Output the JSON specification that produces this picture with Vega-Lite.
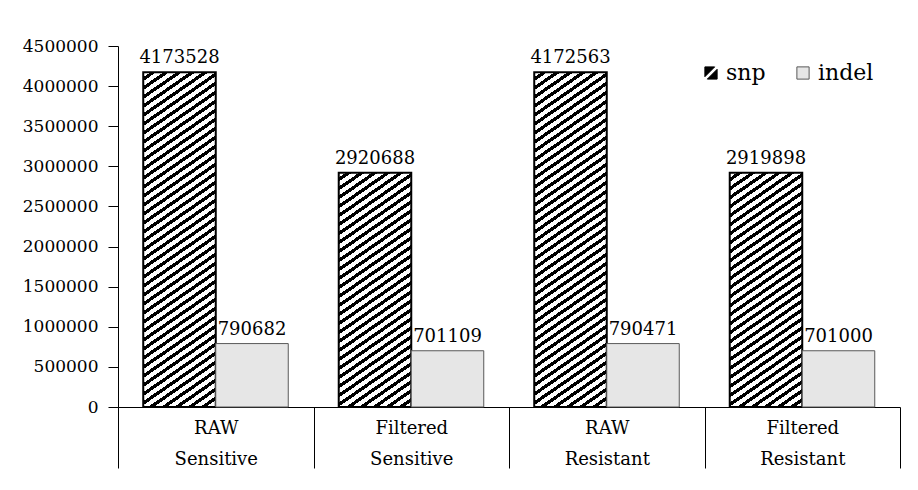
{
  "$schema": "https://vega.github.io/schema/vega-lite/v6.json",
  "width": 782,
  "height": 361,
  "autosize": "none",
  "padding": {"left": 118, "top": 46, "right": 18, "bottom": 83},
  "background": "white",
  "config": {
    "view": {"stroke": null},
    "font": "DejaVu Serif",
    "axis": {
      "grid": false,
      "domainColor": "#000",
      "tickColor": "#000",
      "labelColor": "#000",
      "labelFont": "DejaVu Serif",
      "labelFontWeight": "normal"
    },
    "legend": {
      "orient": "none",
      "legendX": 582,
      "legendY": 16,
      "direction": "horizontal",
      "padding": 0,
      "symbolSize": 150,
      "symbolOpacity": 1,
      "symbolStrokeWidth": 1,
      "labelFont": "DejaVu Serif",
      "labelFontSize": 22,
      "labelColor": "#000",
      "labelOffset": 4,
      "columnPadding": 26
    }
  },
  "data": {
    "values": [
      {"group": "RAW|Sensitive", "type": "snp", "value": 4173528},
      {"group": "RAW|Sensitive", "type": "indel", "value": 790682},
      {"group": "Filtered|Sensitive", "type": "snp", "value": 2920688},
      {"group": "Filtered|Sensitive", "type": "indel", "value": 701109},
      {"group": "RAW|Resistant", "type": "snp", "value": 4172563},
      {"group": "RAW|Resistant", "type": "indel", "value": 790471},
      {"group": "Filtered|Resistant", "type": "snp", "value": 2919898},
      {"group": "Filtered|Resistant", "type": "indel", "value": 701000}
    ]
  },
  "encoding": {
    "x": {
      "field": "group",
      "type": "nominal",
      "sort": null,
      "scale": {"paddingInner": 0, "paddingOuter": 0},
      "axis": {
        "title": null,
        "labelAngle": 0,
        "labelExpr": "split(datum.label, '|')",
        "labelFontSize": 18,
        "tickBand": "extent",
        "tickSize": 61,
        "labelPadding": -49,
        "labelBaseline": "top",
        "labelLineHeight": 31,
        "labelOverlap": false
      }
    },
    "xOffset": {
      "field": "type",
      "type": "nominal",
      "sort": ["snp", "indel"],
      "scale": {"paddingInner": 0, "paddingOuter": 0.348}
    },
    "y": {
      "field": "value",
      "type": "quantitative",
      "scale": {"domain": [0, 4500000], "nice": false},
      "axis": {
        "title": null,
        "values": [0, 500000, 1000000, 1500000, 2000000, 2500000, 3000000, 3500000, 4000000, 4500000],
        "format": "d",
        "labelFontSize": 17,
        "tickSize": 10,
        "labelPadding": 10
      }
    }
  },
  "layer": [
    {
      "mark": {"type": "bar"},
      "encoding": {
        "fill": {
          "field": "type",
          "type": "nominal",
          "scale": {"domain": ["snp", "indel"], "range": ["#000000", "#e6e6e6"]},
          "legend": {"title": null},
          "condition": [
            {
              "test": "datum.type === 'snp' && datum.value > 3500000",
              "value": {
                "gradient": "linear", "x1": 0, "y1": 0, "x2": 0.1746, "y2": 1.1686,
                "stops": [
                  {"offset": 0, "color": "#fff"}, {"offset": 0.0125, "color": "#fff"}, {"offset": 0.0125, "color": "#000"}, {"offset": 0.0225, "color": "#000"},
                  {"offset": 0.0225, "color": "#fff"}, {"offset": 0.035, "color": "#fff"}, {"offset": 0.035, "color": "#000"}, {"offset": 0.045, "color": "#000"},
                  {"offset": 0.045, "color": "#fff"}, {"offset": 0.0575, "color": "#fff"}, {"offset": 0.0575, "color": "#000"}, {"offset": 0.0675, "color": "#000"},
                  {"offset": 0.0675, "color": "#fff"}, {"offset": 0.08, "color": "#fff"}, {"offset": 0.08, "color": "#000"}, {"offset": 0.09, "color": "#000"},
                  {"offset": 0.09, "color": "#fff"}, {"offset": 0.1025, "color": "#fff"}, {"offset": 0.1025, "color": "#000"}, {"offset": 0.1125, "color": "#000"},
                  {"offset": 0.1125, "color": "#fff"}, {"offset": 0.125, "color": "#fff"}, {"offset": 0.125, "color": "#000"}, {"offset": 0.135, "color": "#000"},
                  {"offset": 0.135, "color": "#fff"}, {"offset": 0.1475, "color": "#fff"}, {"offset": 0.1475, "color": "#000"}, {"offset": 0.1575, "color": "#000"},
                  {"offset": 0.1575, "color": "#fff"}, {"offset": 0.17, "color": "#fff"}, {"offset": 0.17, "color": "#000"}, {"offset": 0.18, "color": "#000"},
                  {"offset": 0.18, "color": "#fff"}, {"offset": 0.1925, "color": "#fff"}, {"offset": 0.1925, "color": "#000"}, {"offset": 0.2025, "color": "#000"},
                  {"offset": 0.2025, "color": "#fff"}, {"offset": 0.215, "color": "#fff"}, {"offset": 0.215, "color": "#000"}, {"offset": 0.225, "color": "#000"},
                  {"offset": 0.225, "color": "#fff"}, {"offset": 0.2375, "color": "#fff"}, {"offset": 0.2375, "color": "#000"}, {"offset": 0.2475, "color": "#000"},
                  {"offset": 0.2475, "color": "#fff"}, {"offset": 0.26, "color": "#fff"}, {"offset": 0.26, "color": "#000"}, {"offset": 0.27, "color": "#000"},
                  {"offset": 0.27, "color": "#fff"}, {"offset": 0.2825, "color": "#fff"}, {"offset": 0.2825, "color": "#000"}, {"offset": 0.2925, "color": "#000"},
                  {"offset": 0.2925, "color": "#fff"}, {"offset": 0.305, "color": "#fff"}, {"offset": 0.305, "color": "#000"}, {"offset": 0.315, "color": "#000"},
                  {"offset": 0.315, "color": "#fff"}, {"offset": 0.3275, "color": "#fff"}, {"offset": 0.3275, "color": "#000"}, {"offset": 0.3375, "color": "#000"},
                  {"offset": 0.3375, "color": "#fff"}, {"offset": 0.35, "color": "#fff"}, {"offset": 0.35, "color": "#000"}, {"offset": 0.36, "color": "#000"},
                  {"offset": 0.36, "color": "#fff"}, {"offset": 0.3725, "color": "#fff"}, {"offset": 0.3725, "color": "#000"}, {"offset": 0.3825, "color": "#000"},
                  {"offset": 0.3825, "color": "#fff"}, {"offset": 0.395, "color": "#fff"}, {"offset": 0.395, "color": "#000"}, {"offset": 0.405, "color": "#000"},
                  {"offset": 0.405, "color": "#fff"}, {"offset": 0.4175, "color": "#fff"}, {"offset": 0.4175, "color": "#000"}, {"offset": 0.4275, "color": "#000"},
                  {"offset": 0.4275, "color": "#fff"}, {"offset": 0.44, "color": "#fff"}, {"offset": 0.44, "color": "#000"}, {"offset": 0.45, "color": "#000"},
                  {"offset": 0.45, "color": "#fff"}, {"offset": 0.4625, "color": "#fff"}, {"offset": 0.4625, "color": "#000"}, {"offset": 0.4725, "color": "#000"},
                  {"offset": 0.4725, "color": "#fff"}, {"offset": 0.485, "color": "#fff"}, {"offset": 0.485, "color": "#000"}, {"offset": 0.495, "color": "#000"},
                  {"offset": 0.495, "color": "#fff"}, {"offset": 0.5075, "color": "#fff"}, {"offset": 0.5075, "color": "#000"}, {"offset": 0.5175, "color": "#000"},
                  {"offset": 0.5175, "color": "#fff"}, {"offset": 0.53, "color": "#fff"}, {"offset": 0.53, "color": "#000"}, {"offset": 0.54, "color": "#000"},
                  {"offset": 0.54, "color": "#fff"}, {"offset": 0.5525, "color": "#fff"}, {"offset": 0.5525, "color": "#000"}, {"offset": 0.5625, "color": "#000"},
                  {"offset": 0.5625, "color": "#fff"}, {"offset": 0.575, "color": "#fff"}, {"offset": 0.575, "color": "#000"}, {"offset": 0.585, "color": "#000"},
                  {"offset": 0.585, "color": "#fff"}, {"offset": 0.5975, "color": "#fff"}, {"offset": 0.5975, "color": "#000"}, {"offset": 0.6075, "color": "#000"},
                  {"offset": 0.6075, "color": "#fff"}, {"offset": 0.62, "color": "#fff"}, {"offset": 0.62, "color": "#000"}, {"offset": 0.63, "color": "#000"},
                  {"offset": 0.63, "color": "#fff"}, {"offset": 0.6425, "color": "#fff"}, {"offset": 0.6425, "color": "#000"}, {"offset": 0.6525, "color": "#000"},
                  {"offset": 0.6525, "color": "#fff"}, {"offset": 0.665, "color": "#fff"}, {"offset": 0.665, "color": "#000"}, {"offset": 0.675, "color": "#000"},
                  {"offset": 0.675, "color": "#fff"}, {"offset": 0.6875, "color": "#fff"}, {"offset": 0.6875, "color": "#000"}, {"offset": 0.6975, "color": "#000"},
                  {"offset": 0.6975, "color": "#fff"}, {"offset": 0.71, "color": "#fff"}, {"offset": 0.71, "color": "#000"}, {"offset": 0.72, "color": "#000"},
                  {"offset": 0.72, "color": "#fff"}, {"offset": 0.7325, "color": "#fff"}, {"offset": 0.7325, "color": "#000"}, {"offset": 0.7425, "color": "#000"},
                  {"offset": 0.7425, "color": "#fff"}, {"offset": 0.755, "color": "#fff"}, {"offset": 0.755, "color": "#000"}, {"offset": 0.765, "color": "#000"},
                  {"offset": 0.765, "color": "#fff"}, {"offset": 0.7775, "color": "#fff"}, {"offset": 0.7775, "color": "#000"}, {"offset": 0.7875, "color": "#000"},
                  {"offset": 0.7875, "color": "#fff"}, {"offset": 0.8, "color": "#fff"}, {"offset": 0.8, "color": "#000"}, {"offset": 0.81, "color": "#000"},
                  {"offset": 0.81, "color": "#fff"}, {"offset": 0.8225, "color": "#fff"}, {"offset": 0.8225, "color": "#000"}, {"offset": 0.8325, "color": "#000"},
                  {"offset": 0.8325, "color": "#fff"}, {"offset": 0.845, "color": "#fff"}, {"offset": 0.845, "color": "#000"}, {"offset": 0.855, "color": "#000"},
                  {"offset": 0.855, "color": "#fff"}, {"offset": 0.8675, "color": "#fff"}, {"offset": 0.8675, "color": "#000"}, {"offset": 0.8775, "color": "#000"},
                  {"offset": 0.8775, "color": "#fff"}, {"offset": 0.89, "color": "#fff"}, {"offset": 0.89, "color": "#000"}, {"offset": 0.9, "color": "#000"},
                  {"offset": 0.9, "color": "#fff"}, {"offset": 0.9125, "color": "#fff"}, {"offset": 0.9125, "color": "#000"}, {"offset": 0.9225, "color": "#000"},
                  {"offset": 0.9225, "color": "#fff"}, {"offset": 0.935, "color": "#fff"}, {"offset": 0.935, "color": "#000"}, {"offset": 0.945, "color": "#000"},
                  {"offset": 0.945, "color": "#fff"}, {"offset": 0.9575, "color": "#fff"}, {"offset": 0.9575, "color": "#000"}, {"offset": 0.9675, "color": "#000"},
                  {"offset": 0.9675, "color": "#fff"}, {"offset": 0.98, "color": "#fff"}, {"offset": 0.98, "color": "#000"}, {"offset": 0.99, "color": "#000"},
                  {"offset": 0.99, "color": "#fff"}, {"offset": 1, "color": "#fff"}
                ]
              }
            },
            {
              "test": "datum.type === 'snp'",
              "value": {
                "gradient": "linear", "x1": 0, "y1": 0, "x2": 0.3486, "y2": 1.6328,
                "stops": [
                  {"offset": 0, "color": "#fff"}, {"offset": 0.0125, "color": "#fff"}, {"offset": 0.0125, "color": "#000"}, {"offset": 0.0225, "color": "#000"},
                  {"offset": 0.0225, "color": "#fff"}, {"offset": 0.035, "color": "#fff"}, {"offset": 0.035, "color": "#000"}, {"offset": 0.045, "color": "#000"},
                  {"offset": 0.045, "color": "#fff"}, {"offset": 0.0575, "color": "#fff"}, {"offset": 0.0575, "color": "#000"}, {"offset": 0.0675, "color": "#000"},
                  {"offset": 0.0675, "color": "#fff"}, {"offset": 0.08, "color": "#fff"}, {"offset": 0.08, "color": "#000"}, {"offset": 0.09, "color": "#000"},
                  {"offset": 0.09, "color": "#fff"}, {"offset": 0.1025, "color": "#fff"}, {"offset": 0.1025, "color": "#000"}, {"offset": 0.1125, "color": "#000"},
                  {"offset": 0.1125, "color": "#fff"}, {"offset": 0.125, "color": "#fff"}, {"offset": 0.125, "color": "#000"}, {"offset": 0.135, "color": "#000"},
                  {"offset": 0.135, "color": "#fff"}, {"offset": 0.1475, "color": "#fff"}, {"offset": 0.1475, "color": "#000"}, {"offset": 0.1575, "color": "#000"},
                  {"offset": 0.1575, "color": "#fff"}, {"offset": 0.17, "color": "#fff"}, {"offset": 0.17, "color": "#000"}, {"offset": 0.18, "color": "#000"},
                  {"offset": 0.18, "color": "#fff"}, {"offset": 0.1925, "color": "#fff"}, {"offset": 0.1925, "color": "#000"}, {"offset": 0.2025, "color": "#000"},
                  {"offset": 0.2025, "color": "#fff"}, {"offset": 0.215, "color": "#fff"}, {"offset": 0.215, "color": "#000"}, {"offset": 0.225, "color": "#000"},
                  {"offset": 0.225, "color": "#fff"}, {"offset": 0.2375, "color": "#fff"}, {"offset": 0.2375, "color": "#000"}, {"offset": 0.2475, "color": "#000"},
                  {"offset": 0.2475, "color": "#fff"}, {"offset": 0.26, "color": "#fff"}, {"offset": 0.26, "color": "#000"}, {"offset": 0.27, "color": "#000"},
                  {"offset": 0.27, "color": "#fff"}, {"offset": 0.2825, "color": "#fff"}, {"offset": 0.2825, "color": "#000"}, {"offset": 0.2925, "color": "#000"},
                  {"offset": 0.2925, "color": "#fff"}, {"offset": 0.305, "color": "#fff"}, {"offset": 0.305, "color": "#000"}, {"offset": 0.315, "color": "#000"},
                  {"offset": 0.315, "color": "#fff"}, {"offset": 0.3275, "color": "#fff"}, {"offset": 0.3275, "color": "#000"}, {"offset": 0.3375, "color": "#000"},
                  {"offset": 0.3375, "color": "#fff"}, {"offset": 0.35, "color": "#fff"}, {"offset": 0.35, "color": "#000"}, {"offset": 0.36, "color": "#000"},
                  {"offset": 0.36, "color": "#fff"}, {"offset": 0.3725, "color": "#fff"}, {"offset": 0.3725, "color": "#000"}, {"offset": 0.3825, "color": "#000"},
                  {"offset": 0.3825, "color": "#fff"}, {"offset": 0.395, "color": "#fff"}, {"offset": 0.395, "color": "#000"}, {"offset": 0.405, "color": "#000"},
                  {"offset": 0.405, "color": "#fff"}, {"offset": 0.4175, "color": "#fff"}, {"offset": 0.4175, "color": "#000"}, {"offset": 0.4275, "color": "#000"},
                  {"offset": 0.4275, "color": "#fff"}, {"offset": 0.44, "color": "#fff"}, {"offset": 0.44, "color": "#000"}, {"offset": 0.45, "color": "#000"},
                  {"offset": 0.45, "color": "#fff"}, {"offset": 0.4625, "color": "#fff"}, {"offset": 0.4625, "color": "#000"}, {"offset": 0.4725, "color": "#000"},
                  {"offset": 0.4725, "color": "#fff"}, {"offset": 0.485, "color": "#fff"}, {"offset": 0.485, "color": "#000"}, {"offset": 0.495, "color": "#000"},
                  {"offset": 0.495, "color": "#fff"}, {"offset": 0.5075, "color": "#fff"}, {"offset": 0.5075, "color": "#000"}, {"offset": 0.5175, "color": "#000"},
                  {"offset": 0.5175, "color": "#fff"}, {"offset": 0.53, "color": "#fff"}, {"offset": 0.53, "color": "#000"}, {"offset": 0.54, "color": "#000"},
                  {"offset": 0.54, "color": "#fff"}, {"offset": 0.5525, "color": "#fff"}, {"offset": 0.5525, "color": "#000"}, {"offset": 0.5625, "color": "#000"},
                  {"offset": 0.5625, "color": "#fff"}, {"offset": 0.575, "color": "#fff"}, {"offset": 0.575, "color": "#000"}, {"offset": 0.585, "color": "#000"},
                  {"offset": 0.585, "color": "#fff"}, {"offset": 0.5975, "color": "#fff"}, {"offset": 0.5975, "color": "#000"}, {"offset": 0.6075, "color": "#000"},
                  {"offset": 0.6075, "color": "#fff"}, {"offset": 0.62, "color": "#fff"}, {"offset": 0.62, "color": "#000"}, {"offset": 0.63, "color": "#000"},
                  {"offset": 0.63, "color": "#fff"}, {"offset": 0.6425, "color": "#fff"}, {"offset": 0.6425, "color": "#000"}, {"offset": 0.6525, "color": "#000"},
                  {"offset": 0.6525, "color": "#fff"}, {"offset": 0.665, "color": "#fff"}, {"offset": 0.665, "color": "#000"}, {"offset": 0.675, "color": "#000"},
                  {"offset": 0.675, "color": "#fff"}, {"offset": 0.6875, "color": "#fff"}, {"offset": 0.6875, "color": "#000"}, {"offset": 0.6975, "color": "#000"},
                  {"offset": 0.6975, "color": "#fff"}, {"offset": 0.71, "color": "#fff"}, {"offset": 0.71, "color": "#000"}, {"offset": 0.72, "color": "#000"},
                  {"offset": 0.72, "color": "#fff"}, {"offset": 0.7325, "color": "#fff"}, {"offset": 0.7325, "color": "#000"}, {"offset": 0.7425, "color": "#000"},
                  {"offset": 0.7425, "color": "#fff"}, {"offset": 0.755, "color": "#fff"}, {"offset": 0.755, "color": "#000"}, {"offset": 0.765, "color": "#000"},
                  {"offset": 0.765, "color": "#fff"}, {"offset": 0.7775, "color": "#fff"}, {"offset": 0.7775, "color": "#000"}, {"offset": 0.7875, "color": "#000"},
                  {"offset": 0.7875, "color": "#fff"}, {"offset": 0.8, "color": "#fff"}, {"offset": 0.8, "color": "#000"}, {"offset": 0.81, "color": "#000"},
                  {"offset": 0.81, "color": "#fff"}, {"offset": 1, "color": "#fff"}
                ]
              }
            }
          ]
        },
        "stroke": {"condition": {"test": "datum.type === 'snp'", "value": "#000"}, "value": "#595959"},
        "strokeWidth": {"condition": {"test": "datum.type === 'snp'", "value": 2}, "value": 1}
      }
    },
    {
      "mark": {"type": "point", "filled": true, "opacity": 0},
      "encoding": {
        "fill": {"field": "type", "type": "nominal", "legend": {"title": null}},
        "stroke": {
          "field": "type",
          "type": "nominal",
          "scale": {"domain": ["snp", "indel"], "range": ["#000000", "#595959"]},
          "legend": {"title": null}
        },
        "shape": {
          "field": "type",
          "type": "nominal",
          "scale": {"domain": ["snp", "indel"], "range": ["M-1,-1L0.6,-1L-1,0.6Z M1,1L-0.6,1L1,-0.6Z", "square"]},
          "legend": {"title": null}
        }
      }
    },
    {
      "mark": {"type": "text", "baseline": "alphabetic", "dy": -9, "fontSize": 18, "font": "DejaVu Serif", "color": "#000"},
      "encoding": {
        "text": {"field": "value", "type": "quantitative", "format": "d"}
      }
    }
  ]
}
